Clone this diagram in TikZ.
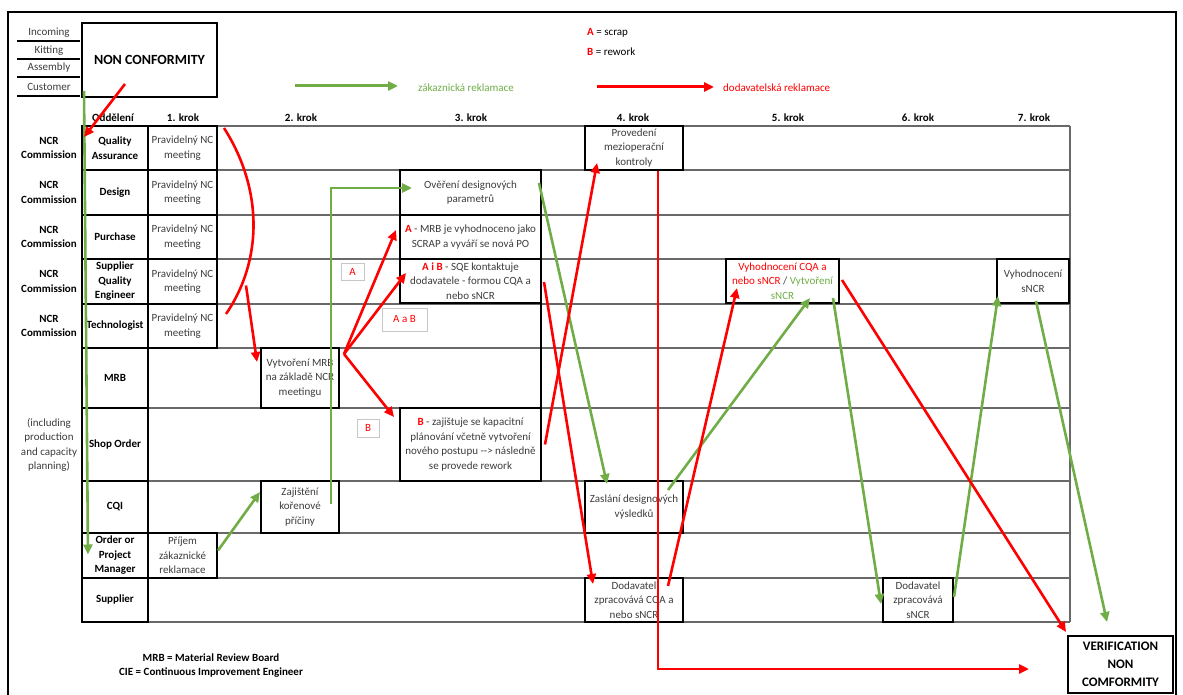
\documentclass[tikz,border=0pt]{standalone}
\usepackage{fontspec}
\setmainfont{Carlito}
\usetikzlibrary{arrows.meta}
\definecolor{xred}{RGB}{255,0,0}
\definecolor{xgreen}{RGB}{112,173,71}
\definecolor{txt}{RGB}{60,60,60}
\definecolor{gridc}{RGB}{105,105,105}
\newcommand\cellfont{\fontsize{11pt}{14.5pt}\selectfont}

\begin{document}
\begin{tikzpicture}[x=1pt,y=-1pt,
  every node/.style={inner sep=0pt, align=center, font=\cellfont, text=txt},
  box/.style={draw=black, line width=2pt},
  dept/.style={box, text=black, font=\cellfont\bfseries, minimum width=66pt},
  meet/.style={box, minimum width=69pt},
  hdr/.style={text=black, font=\cellfont\bfseries},
  tag/.style={draw=black!22, line width=0.8pt, text=xred},
  gridline/.style={draw=gridc, line width=1.2pt},
  redline/.style={draw=xred, line width=2.6pt},
  greenline/.style={draw=xgreen, line width=2.6pt},
  redarrow/.style={redline, -{Triangle[length=10pt, width=9pt]}},
  greenarrow/.style={greenline, -{Triangle[length=10pt, width=9pt]}}
]
\useasboundingbox (0,0) rectangle (1183,695);

% outer frame
\draw[line width=1.8pt] (8,720) -- (8,12) -- (1176,12) -- (1176,720);

% source categories
\node (src1) at (49,33) {Incoming};
\node (src2) at (49,50.5) {Kitting};
\node (src3) at (49,68) {Assembly};
\node (src4) at (49,87) {Customer};
\foreach \y in {41,59,77,96} \draw[line width=1.2pt] (17,\y) -- (80,\y);

\node[box, text=black, font=\fontsize{14pt}{17pt}\selectfont\bfseries,
      minimum width=135pt, minimum height=74pt] (nc) at (149.5,60) {NON CONFORMITY};

% legend
\node[anchor=west, text=black] (la) at (587,33) {\textcolor{xred}{\bfseries A} = scrap};
\node[anchor=west, text=black] (lb) at (587,52) {\textcolor{xred}{\bfseries B} = rework};
\node[anchor=west, text=xgreen] (lgg) at (418,88) {zákaznická reklamace};
\node[anchor=west, text=xred] (lgr) at (723,88) {dodavatelská reklamace};
\draw[greenarrow, line width=3pt] ([shift={(-123,-2)}]lgg.west) -- ([shift={(-20,-2)}]lgg.west);
\draw[redarrow, line width=3pt] ([shift={(-126,-1)}]lgr.west) -- ([shift={(-9,-1)}]lgr.west);

% column headers
\node[hdr] (h0) at (113,118) {Oddělení};
\node[hdr] (h1) at (183,118) {1. krok};
\node[hdr] (h2) at (301,118) {2. krok};
\node[hdr] (h3) at (471,118) {3. krok};
\node[hdr] (h4) at (633,118) {4. krok};
\node[hdr] (h5) at (788,118) {5. krok};
\node[hdr] (h6) at (918,118) {6. krok};
\node[hdr] (h7) at (1034,118) {7. krok};

% grid
\foreach \y in {126,170,215,259,304} \draw[gridline] (217,\y) -- (1070,\y);
\foreach \y in {348,408,481,533,578,622} \draw[gridline] (148,\y) -- (1070,\y);
\draw[gridline] (1070,126) -- (1070,622);
\draw[black, line width=1.3pt] (541,170) -- (541,481);

% departments
\foreach \i/\c/\h/\t in {1/148/44/{Quality\\Assurance}, 2/192.5/45/Design, 3/237/44/Purchase,
    4/281.5/45/{Supplier\\Quality\\Engineer}, 5/326/44/Technologist, 6/378/60/MRB,
    7/444.5/73/Shop Order, 8/507/52/CQI, 9/555.5/45/{Order or\\Project\\Manager}, 10/600/44/Supplier}
  \node[dept, minimum height=\h pt] (d\i) at (115,\c) {\t};

\foreach \i/\c in {1/148,2/192.5,3/237,4/281.5,5/326}
  \node[hdr] (ncr\i) at (49,\c) {NCR\\Commission};
\node (incl) at (49,445) {(including\\production\\and capacity\\planning)};

% step 1
\foreach \i/\c/\h in {1/148/44,2/192.5/45,3/237/44,4/281.5/45,5/326/44}
  \node[meet, minimum height=\h pt] (m\i) at (182.5,\c) {Pravidelný NC\\meeting};
\node[meet, minimum height=45pt] (recv) at (182.5,555.5) {Příjem\\zákaznické\\reklamace};

% step 2
\node[box, minimum width=78pt, minimum height=60pt] (mrb) at (300,378) {Vytvoření MRB\\na základě NCR\\meetingu};
\node[box, minimum width=78pt, minimum height=52pt] (root) at (300,507) {Zajištění\\kořenové\\příčiny};

% step 3
\node[box, minimum width=141pt, minimum height=45pt] (design) at (470.5,192.5) {Ověření designových\\parametrů};
\node[box, minimum width=141pt, minimum height=44pt] (scrap) at (470.5,237) {\textcolor{xred}{\bfseries A} - MRB je vyhodnoceno jako\\SCRAP a vyváří se nová PO};
\node[box, minimum width=141pt, minimum height=44pt] (sqe) at (470.5,281) {\textcolor{xred}{\bfseries A i B} - SQE kontaktuje\\dodavatele - formou CQA a\\nebo sNCR};
\node[box, minimum width=141pt, minimum height=73pt] (shop) at (470.5,444.5) {\textcolor{xred}{\bfseries B} - zajištuje se kapacitní\\plánování včetně vytvoření\\nového postupu -\kern0pt-\kern0pt> následně\\se provede rework};

\node[tag, minimum width=23pt, minimum height=17pt] (tA) at (352.5,271.5) {A};
\node[tag, minimum width=45pt, minimum height=23pt] (tAB) at (404.5,319.5) {A a B};
\node[tag, minimum width=22pt, minimum height=18pt] (tB) at (368,428) {B};

% step 4
\node[box, minimum width=98pt, minimum height=44pt] (check) at (634,148) {Provedení\\mezioperační\\kontroly};
\node[box, minimum width=98pt, minimum height=52pt] (send) at (634,507) {Zaslání designových\\výsledků};
\node[box, minimum width=98pt, minimum height=44pt] (supcqa) at (634,600) {Dodavatel\\zpracovává CQA a\\nebo sNCR};

% step 5
\node[box, minimum width=113pt, minimum height=44pt] (evalcqa) at (782.5,281)
  {\textcolor{xred}{Vyhodnocení CQA a}\\\textcolor{xred}{nebo sNCR} / \textcolor{xgreen}{Vytvoření}\\\textcolor{xgreen}{sNCR}};

% step 6
\node[box, minimum width=70pt, minimum height=44pt] (supsncr) at (918,600) {Dodavatel\\zpracovává\\sNCR};

% step 7
\node[box, minimum width=72pt, minimum height=44pt] (evalsncr) at (1033,281) {Vyhodnocení\\sNCR};

\node[box, text=black, font=\fontsize{13pt}{18pt}\selectfont\bfseries,
      minimum width=105pt, minimum height=57pt] (verif) at (1120.5,664.5) {VERIFICATION\\NON\\COMFORMITY};

% notes
\node[text=black, font=\fontsize{11pt}{14pt}\selectfont\bfseries] (notes) at (211,666)
  {MRB = Material Review Board\\CIE = Continuous Improvement Engineer};

% customer complaint path
\draw[greenarrow] ([shift={(3,-7)}]nc.south west) -- ([shift={(7,-1)}]d9.west);
\draw[greenarrow] ([shift={(0,-5)}]recv.east) -- ([shift={(0,-15)}]root.west);
\draw[greenarrow] ([shift={(-9,-3)}]root.east) |- ([shift={(13,-4.5)}]design.west);
\draw[greenarrow] ([shift={(-3,-9.5)}]design.east) -- ([shift={(23,4)}]send.north west);
\draw[greenarrow] ([shift={(-16,10)}]send.north east) -- ([shift={(27.5,-6)}]evalcqa.south);
\draw[greenarrow] ([shift={(-7,-6)}]evalcqa.south east) -- ([shift={(-1,4)}]supsncr.west);
\draw[greenarrow] ([shift={(0,-3)}]supsncr.east) -- ([shift={(2,-8)}]evalsncr.south west);
\draw[greenarrow] ([shift={(3,-3)}]evalsncr.south) -- ([shift={(-13.5,-13)}]verif.north);

% supplier complaint path
\draw[redarrow] ([shift={(-24.5,-14)}]nc.south) -- ([shift={(3,-11)}]d1.west);
\draw[redline] ([shift={(6,3)}]m1.north east) .. controls +(39,61) and +(37,-54) .. ([shift={(8,-12)}]m5.east);
\draw[redarrow] ([shift={(28,4)}]m4.east) -- ([shift={(-3,-16)}]mrb.west);
\draw[redarrow] ([shift={(4,7)}]mrb.north east) -- ([shift={(-3,-7)}]scrap.west);
\draw[redarrow] ([shift={(4,7)}]mrb.north east) -- ([shift={(7,-8)}]sqe.west);
\draw[redarrow] ([shift={(4,7)}]mrb.north east) -- ([shift={(-5,10)}]shop.north west);
\draw[redarrow] ([shift={(2,1)}]sqe.east) -- ([shift={(9,7)}]supcqa.north west);
\draw[redarrow] ([shift={(3,0)}]shop.east) -- ([shift={(13,-8)}]check.south west);
\draw[redarrow] ([shift={(24,0)}]check.south) |- ([shift={(-38,4.5)}]verif.west);
\draw[redarrow] ([shift={(-16,9)}]supcqa.north east) -- ([shift={(12,-16)}]evalcqa.south west);
\draw[redarrow] ([shift={(2,-1)}]evalcqa.east) -- ([shift={(-1,-3)}]verif.north west);
\end{tikzpicture}
\end{document}
